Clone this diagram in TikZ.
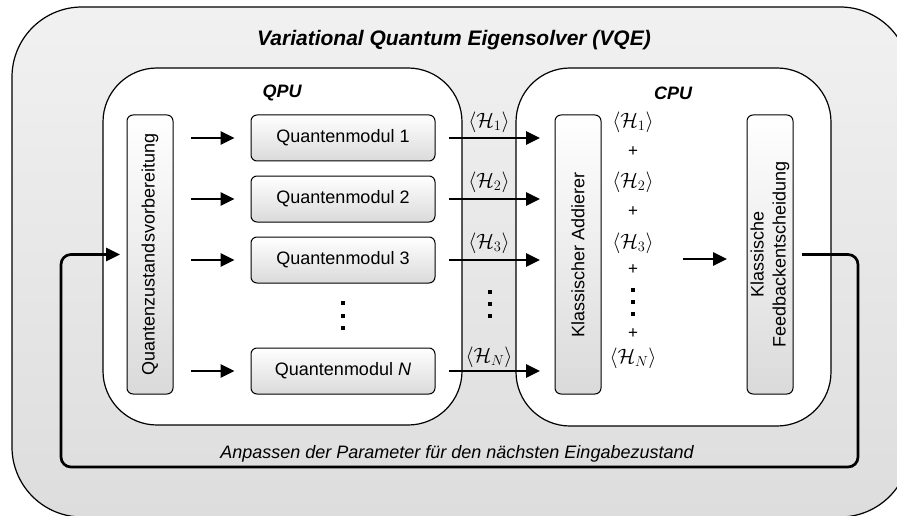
\documentclass[tikz,border=0pt]{standalone}
\usepackage{fontspec}
\setmainfont{Liberation Sans}
\usetikzlibrary{arrows.meta}

\definecolor{shellTop}{HTML}{F1F1F1}
\definecolor{shellBottom}{HTML}{DDDDDD}
\definecolor{boxShade}{HTML}{DADADA}

\tikzset{
  every node/.style={font=\fontsize{18}{22}\selectfont},
  shell/.style={draw=black, line width=1.2pt, rounded corners=70pt,
    top color=shellTop, bottom color=shellBottom},
  unitbox/.style={draw=black, line width=1.2pt, rounded corners=54pt, fill=white},
  modbox/.style={draw=black, line width=1pt, rounded corners=6pt,
    top color=white, bottom color=boxShade,
    minimum width=184pt, minimum height=46pt, inner sep=0pt},
  vbox/.style={draw=black, line width=1pt, rounded corners=6pt,
    top color=white, bottom color=boxShade, rotate=90,
    minimum width=279pt, minimum height=46pt, inner sep=0pt, align=center},
  heading/.style={font=\fontsize{18}{22}\selectfont\bfseries\itshape},
  flow/.style={line width=2.9pt, -{Triangle[length=14pt,width=13pt]}},
  loopline/.style={line width=2.7pt, rounded corners=10pt,
    -{Triangle[length=14pt,width=13pt]}},
  expval/.style={font=\fontsize{22}{26}\selectfont, inner sep=0pt},
  plus/.style={font=\fontsize{17}{20}\selectfont, inner sep=0pt},
  dot/.style={fill=black, minimum size=4pt, inner sep=0pt, draw=none},
}

\begin{document}
\begin{tikzpicture}[x=1pt, y=-1pt]
\useasboundingbox (0,0) rectangle (897,516);
\begin{scope}
\clip (0,0) rectangle (897,516);

% outer frame
\draw[shell] (12,7) rectangle (910,517);
\node[font=\fontsize{21}{25}\selectfont\bfseries\itshape] (title) at (454,40)
  {Variational Quantum Eigensolver (VQE)};

% processing units
\draw[unitbox] (103,68) rectangle (462,425);
\draw[unitbox] (516,68) rectangle (831,426);
\node[heading] (qpu) at (282,93) {QPU};
\node[heading] (cpu) at (673,93) {CPU};

% QPU contents
\node[vbox] (qz) at (150,254.5) {Quantenzustandsvorbereitung};
\node[modbox] (m1) at (343,138) {Quantenmodul 1};
\node[modbox] (m2) at (343,199) {Quantenmodul 2};
\node[modbox] (m3) at (343,260) {Quantenmodul 3};
\node[modbox] (mN) at (343,371) {Quantenmodul \textit{N}};
\node[dot] (qd1) at (343,303) {};
\node[dot] (qd2) at (343,316) {};
\node[dot] (qd3) at (343,328) {};

\foreach \m in {m1,m2,m3,mN}
  \draw[flow, shorten <=41pt, shorten >=16pt] (qz.center |- \m.west) -- (\m.west);

% CPU contents
\node[vbox] (add) at (578,254.5) {Klassischer Addierer};
\node[vbox] (fb) at (770,254.5) {Klassische\\Feedbackentscheidung};

\foreach \m in {m1,m2,m3,mN}
  \draw[flow, shorten <=13pt, shorten >=38pt] (\m.east) -- (\m.east -| add.center);

% expectation values passed between the units
\node[expval] (h1) at (489,122) {$\langle\mathcal{H}_1\rangle$};
\node[expval] (h2) at (489,182) {$\langle\mathcal{H}_2\rangle$};
\node[expval] (h3) at (489,243) {$\langle\mathcal{H}_3\rangle$};
\node[expval] (hN) at (489,357) {$\langle\mathcal{H}_N\rangle$};
\node[dot] (gd1) at (490,292) {};
\node[dot] (gd2) at (490,304) {};
\node[dot] (gd3) at (490,316) {};

% sum column
\node[expval] (s1) at (633,122) {$\langle\mathcal{H}_1\rangle$};
\node[plus] (p1) at (633,152) {+};
\node[expval] (s2) at (633,182) {$\langle\mathcal{H}_2\rangle$};
\node[plus] (p2) at (633,212) {+};
\node[expval] (s3) at (633,243) {$\langle\mathcal{H}_3\rangle$};
\node[plus] (p3) at (633,270) {+};
\node[dot] (sd1) at (633,290) {};
\node[dot] (sd2) at (633,302) {};
\node[dot] (sd3) at (633,314) {};
\node[plus] (p4) at (633,334) {+};
\node[expval] (sN) at (633,358) {$\langle\mathcal{H}_N\rangle$};

\coordinate (sumout) at (683,259);
\draw[flow, shorten >=43pt] (sumout) -- (sumout -| fb.center);

% feedback loop
\coordinate (loopR) at (858,467);
\coordinate (loopL) at (61,467);
\draw[loopline, shorten <=32pt, shorten >=30pt]
  (fb.center) -| (loopR) -- (loopL) |- (qz.center);
\node[font=\fontsize{18}{22}\selectfont\itshape] (loopnote) at (457,454)
  {Anpassen der Parameter für den nächsten Eingabezustand};
\end{scope}
\end{tikzpicture}
\end{document}
